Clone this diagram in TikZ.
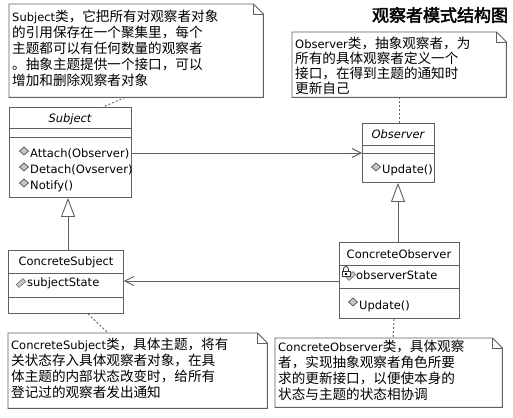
\documentclass[tikz,border=0pt]{standalone}
\usepackage{fontspec}
\setmainfont{DejaVu Sans}
\newfontfamily\cjk{Noto Sans CJK SC}
\newfontfamily\cjkb[FakeBold=2.5]{Noto Sans CJK SC}
\usetikzlibrary{arrows.meta}
\definecolor{ln}{RGB}{96,96,96}
\newcommand\lt[1]{{\normalfont\fontsize{11.5}{16}\selectfont #1}}
\newcommand\notedraw[1]{%
  \draw[ln, line width=0.9pt] (#1.north west) -- ([xshift=-10pt]#1.north east) -- ([yshift=-10pt]#1.north east) -- (#1.south east) -- (#1.south west) -- cycle;
  \draw[ln, line width=0.9pt] ([xshift=-10pt]#1.north east) -- ([xshift=-10pt,yshift=-10pt]#1.north east) -- ([yshift=-10pt]#1.north east);}
\tikzset{
  cls/.style={draw=ln, line width=0.9pt, anchor=north west, inner sep=0pt},
  notebg/.style={anchor=north west, inner sep=0pt},
  ntxt/.style={anchor=north west, inner sep=0pt, align=left, font=\cjk\fontsize{13.6}{16}\selectfont},
  ctxt/.style={inner sep=0pt, font=\fontsize{11.5}{14}\selectfont},
  itxt/.style={inner sep=0pt, font=\itshape\fontsize{11.5}{14}\selectfont},
  sep/.style={draw=ln, line width=0.9pt},
  assoc/.style={draw=ln, line width=0.9pt, -{Straight Barb[length=9pt,width=9pt]}},
  gen/.style={draw=ln, line width=0.9pt, -{Triangle[open,length=19pt,width=14pt]}},
  dotl/.style={draw=ln, line width=0.9pt, dash pattern=on 2pt off 2pt},
  opic/.pic={\draw[fill=gray!45, draw=black!75, line width=0.6pt] (0,-4)--(4.5,0)--(0,4)--(-4.5,0)--cycle;},
  apic/.pic={\draw[fill=gray!45, draw=gray!80!black, line width=0.5pt, rotate=40] (-4.5,-2) rectangle (4.5,2);},
  lockpic/.pic={\draw[black!80, line width=0.8pt] (-2.5,0) -- (-2.5,-2) arc[start angle=180,end angle=360,radius=2.5] -- (2.5,0);
     \draw[fill=white, draw=black!80, line width=0.7pt] (-4,0) rectangle (4,5);
     \fill[black] (-1,1.5) rectangle (1,3.5);}
}
\begin{document}
\begin{tikzpicture}[x=1pt,y=-1pt]
\useasboundingbox (0,0) rectangle (513,417);
\fill[white] (0,0) rectangle (513,417);

% title
\node[inner sep=0pt, font=\cjkb\fontsize{17}{20}\selectfont] (title) at (440,15) {观察者模式结构图};

% notes
\node[notebg, minimum width=254pt, minimum height=93pt] (n1) at (9,4) {};
\notedraw{n1}
\node[ntxt] (n1t) at (12,10) {\lt{Subject}类，它把所有对观察者对象\\的引用保存在一个聚集里，每个\\主题都可以有任何数量的观察者\\。抽象主题提供一个接口，可以\\增加和删除观察者对象};

\node[notebg, minimum width=214pt, minimum height=65pt] (n2) at (292,32) {};
\notedraw{n2}
\node[ntxt, font=\cjk\fontsize{13.6}{15}\selectfont] (n2t) at (295,37) {\lt{Observer}类，抽象观察者，为\\所有的具体观察者定义一个\\接口，在得到主题的通知时\\更新自己};

\node[notebg, minimum width=259pt, minimum height=75pt] (n3) at (8,333) {};
\notedraw{n3}
\node[ntxt] (n3t) at (11,338) {\lt{ConcreteSubject}类，具体主题，将有\\关状态存入具体观察者对象，在具\\体主题的内部状态改变时，给所有\\登记过的观察者发出通知};

\node[notebg, minimum width=227pt, minimum height=69pt] (n4) at (275,338) {};
\notedraw{n4}
\node[ntxt] (n4t) at (278,340) {\lt{ConcreteObserver}类，具体观察\\者，实现抽象观察者角色所要\\求的更新接口，以便使本身的\\状态与主题的状态相协调};

% Subject
\node[cls, minimum width=122pt, minimum height=90pt] (subj) at (9,107) {};
\draw[sep] (subj.west |- 0,128) -- (subj.east |- 0,128);
\draw[sep] (subj.west |- 0,137) -- (subj.east |- 0,137);
\node[itxt] (subjname) at (70,119) {Subject};
\pic at (24,151) {opic};
\node[ctxt, anchor=west] (op1) at (30,154) {Attach(Observer)};
\pic at (24,167) {opic};
\node[ctxt, anchor=west] (op2) at (30,170) {Detach(Ovserver)};
\pic at (24,183) {opic};
\node[ctxt, anchor=west] (op3) at (30,186) {Notify()};

% Observer
\node[cls, minimum width=72pt, minimum height=59pt] (obs) at (362,123) {};
\draw[sep] (obs.west |- 0,145) -- (obs.east |- 0,145);
\draw[sep] (obs.west |- 0,153) -- (obs.east |- 0,153);
\node[itxt] (obsname) at (398,134) {Observer};
\pic at (376,167) {opic};
\node[ctxt, anchor=west] (obsop) at (382,170) {Update()};

% ConcreteSubject
\node[cls, minimum width=115pt, minimum height=63pt] (csubj) at (8,250) {};
\draw[sep] (csubj.west |- 0,273) -- (csubj.east |- 0,273);
\draw[sep] (csubj.west |- 0,297) -- (csubj.east |- 0,297);
\node[ctxt] (csubjname) at (66,262) {ConcreteSubject};
\pic at (21,283) {apic};
\node[ctxt, anchor=west] (csubjattr) at (27,283) {subjectState};

% ConcreteObserver
\node[cls, minimum width=120pt, minimum height=76pt] (cobs) at (339,242) {};
\draw[sep] (cobs.west |- 0,265) -- (cobs.east |- 0,265);
\draw[sep] (cobs.west |- 0,288) -- (cobs.east |- 0,288);
\node[ctxt] (cobsname) at (399,254) {ConcreteObserver};
\pic at (351,276) {apic};
\pic at (346,271) {lockpic};
\node[ctxt, anchor=west] (cobsattr) at (356,275) {observerState};
\pic at (353,302) {opic};
\node[ctxt, anchor=west] (cobsop) at (359,306) {Update()};

% connectors
\draw[assoc] (subj.east |- 0,153) -- (obs.west |- 0,153);
\draw[assoc] (cobs.west |- 0,281) -- (csubj.east |- 0,281);
\draw[gen] (csubj.north -| 68,0) -- (subj.south -| 68,0);
\draw[gen] (cobs.north -| 398,0) -- (obs.south -| 398,0);
\draw[dotl] (n1.south -| 125,0) -- (subj.north -| 103,0);
\draw[dotl] (n2.south -| 399,0) -- (obs.north -| 399,0);
\draw[dotl] (csubj.south -| 88,0) -- (n3.north -| 108,0);
\draw[dotl] (cobs.south -| 394,0) -- (n4.north -| 393,0);
\end{tikzpicture}
\end{document}
